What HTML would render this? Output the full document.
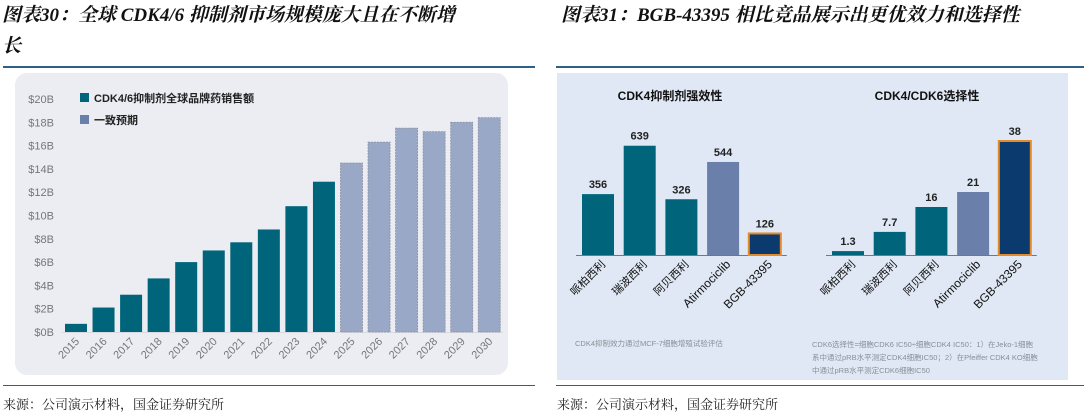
<!DOCTYPE html>
<html><head><meta charset="utf-8"><style>
body{margin:0;width:1086px;height:417px;background:#fff;overflow:hidden;position:relative;font-family:"Liberation Sans","Noto Sans CJK SC",sans-serif}
.h{position:absolute;font-family:"Liberation Serif","Noto Serif CJK SC",serif;font-style:italic;font-weight:bold;font-size:19px;color:#111;line-height:31px}
.src{position:absolute;top:394px;font-family:"Liberation Serif","Noto Serif CJK SC",serif;font-size:13px;color:#222}
.rule{position:absolute;height:2px;background:#2e5f86}
</style></head><body>
<div class="h" style="left:2px;top:0px;width:530px">图表30：全球 CDK4/6 抑制剂市场规模庞大且在不断增<br>长</div>
<div class="h" style="left:561px;top:0px">图表31：BGB-43395 相比竞品展示出更优效力和选择性</div>
<div class="rule" style="left:3px;top:66px;width:532px"></div>
<div class="rule" style="left:556px;top:66px;width:528px"></div>
<div class="rule" style="left:3px;top:385px;width:532px;height:1px"></div>
<div class="rule" style="left:556px;top:385px;width:528px;height:1px"></div>
<div class="src" style="left:3px">来源：公司演示材料，国金证券研究所</div>
<div class="src" style="left:557px">来源：公司演示材料，国金证券研究所</div>
<svg id="c1" width="1086" height="417" style="position:absolute;left:0;top:0"></svg>
<script>
const years=["2015","2016","2017","2018","2019","2020","2021","2022","2023","2024","2025","2026","2027","2028","2029","2030"];
const sales=[0.7,2.1,3.2,4.6,6.0,7.0,7.7,8.8,10.8,12.9,14.5,16.3,17.5,17.2,18.0,18.4];
const forecastFrom=10;
const yTicks=[0,2,4,6,8,10,12,14,16,18,20];
const drugs=["哌柏西利","瑞波西利","阿贝西利","Atirmociclib","BGB-43395"];
const potency=[356,639,326,544,126];
const selectivity=[1.3,7.7,16,21,38];
const selLabels=["1.3","7.7","16","21","38"];
const NS="http://www.w3.org/2000/svg";
const svg=document.getElementById('c1');
function mk(t,a,p){const e=document.createElementNS(NS,t);for(const k in a)e.setAttribute(k,a[k]);(p||svg).appendChild(e);return e;}
// left panel
let e=mk('rect',{x:15,y:73,width:493,height:302,rx:12,fill:'#ebedf3'});

const base1=332,top1=99,max1=20;
const y1=v=>base1-(base1-top1)*v/max1;
const x1=i=>76+i*27.55;
yTicks.forEach(t=>{const l=mk('text',{x:54,y:y1(t)+4,'text-anchor':'end','font-size':11,fill:'#777'});l.textContent='$'+t+'B';
});
let ax=mk('line',{x1:62,x2:503,y1:base1+0.5,y2:base1+0.5,stroke:'#d8dae0','stroke-width':1});

sales.forEach((v,i)=>{const f=i>=forecastFrom;
const r=mk('rect',{x:x1(i)-11,y:y1(v),width:22,height:base1-y1(v),fill:f?'#98a8c6':'#00657a',stroke:f?'#8a8fa0':'none','stroke-dasharray':f?'2,1':'','stroke-width':f?0.8:0});

const t=mk('text',{x:x1(i)+4,y:base1+10,'text-anchor':'end','font-size':11,fill:'#777',transform:`rotate(-45 ${x1(i)+4} ${base1+10})`});t.textContent=years[i];
});
let g=mk('rect',{x:80,y:93,width:9,height:9,fill:'#00657a'});
let lt=mk('text',{x:94,y:102,'font-size':11,'font-weight':'bold',fill:'#222'});lt.textContent='CDK4/6抑制剂全球品牌药销售额';
g=mk('rect',{x:80,y:115,width:9,height:9,fill:'#6a80ab'});
lt=mk('text',{x:94,y:124,'font-size':11,'font-weight':'bold',fill:'#222'});lt.textContent='一致预期';
// right panel
e=mk('rect',{x:557,y:73,width:511,height:307,fill:'#dfe8f4'});
const colors=['#00657a','#00657a','#00657a','#6a80ab','#0b3a6e'];
function sub(cx0,vals,labels,scale,name,title,tcx){
  const base=255;
  const tt=mk('text',{x:tcx,y:100,'text-anchor':'middle','font-size':12,'font-weight':'bold',fill:'#111'});tt.textContent=title;
  
  const a=mk('line',{x1:cx0-22,x2:cx0+4*41.7+22,y1:base+0.5,y2:base+0.5,stroke:'#777'});
  vals.forEach((v,i)=>{const cx=cx0+i*41.7,h=v*scale,last=i===4;
    const r=mk('rect',{x:cx-16,y:base-h,width:32,height:h,fill:colors[i],stroke:last?'#e58a2a':'none','stroke-width':last?2:0});
    
    const t=mk('text',{x:cx,y:base-h-6,'text-anchor':'middle','font-size':11,'font-weight':'bold',fill:'#222'});t.textContent=labels[i];
    
    const c=mk('text',{x:cx+8,y:base+10,'text-anchor':'end','font-size':i>=3?12:11,fill:'#111',transform:`rotate(-45 ${cx+8} ${base+10})`});c.textContent=drugs[i];
    });
}
sub(598,potency,potency.map(String),0.171,'potency','CDK4抑制剂强效性',670);
sub(848,selectivity,selLabels,3.0,'selectivity','CDK4/CDK6选择性',927);
function note(x,y,s,n){const t=mk('text',{x:x,y:y,'font-size':7.5,fill:'#8a8f99'});t.textContent=s;}
note(575,346,'CDK4抑制效力通过MCF-7细胞增殖试验评估','potency-note');
note(812,347,'CDK6选择性=细胞CDK6 IC50÷细胞CDK4 IC50：1）在Jeko-1细胞','selectivity-note-1');
note(812,360,'系中通过pRB水平测定CDK4细胞IC50；2）在Pfeiffer CDK4 KO细胞','selectivity-note-2');
note(812,373,'中通过pRB水平测定CDK6细胞IC50','selectivity-note-3');
</script>
</body></html>
